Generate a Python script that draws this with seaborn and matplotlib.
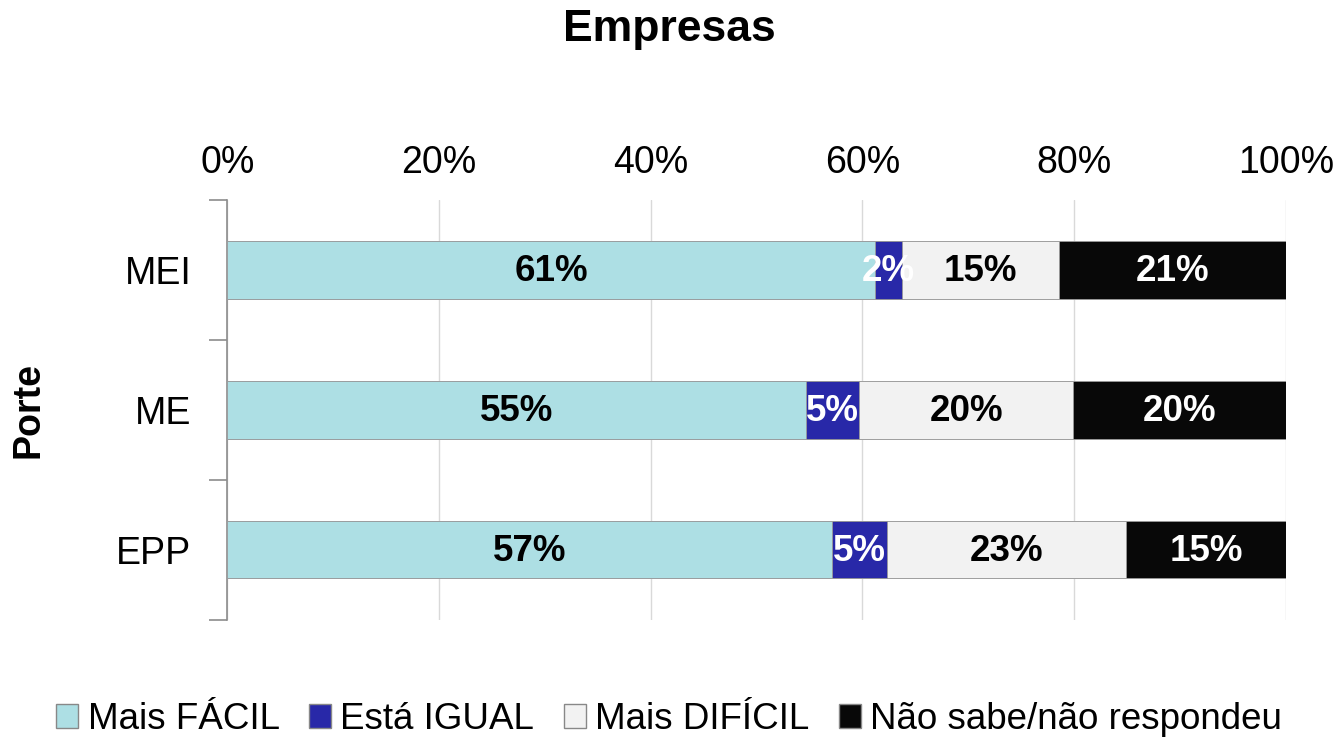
import numpy as np
import pandas as pd
import matplotlib
matplotlib.use("Agg")
import matplotlib.pyplot as plt
import seaborn as sns
from matplotlib.patches import Patch

sns.set_theme(style="white")
plt.rcParams['font.family'] = ['Liberation Sans', 'DejaVu Sans']
plt.rcParams['text.color'] = 'black'
plt.rcParams['xtick.color'] = 'black'
plt.rcParams['ytick.color'] = 'black'
plt.rcParams['axes.labelcolor'] = 'black'

# Data (percentages)
portes = ["MEI", "ME", "EPP"]
categorias = ["Mais FÁCIL", "Está IGUAL", "Mais DIFÍCIL", "Não sabe/não respondeu"]
mais_facil = [61.2, 54.7, 57.1]
esta_igual = [2.5, 5.0, 5.2]
mais_dificil = [14.9, 20.2, 22.6]
nao_sabe = [21.4, 20.1, 15.1]

cores = ["#ADDFE4", "#2828A8", "#F2F2F2", "#080808"]
cores_texto = ["black", "white", "black", "white"]

series = [mais_facil, esta_igual, mais_dificil, nao_sabe]
df = pd.DataFrame({cat: vals for cat, vals in zip(categorias, series)}, index=portes)
cum = df.cumsum(axis=1)

fig = plt.figure(figsize=(13.38, 7.44), dpi=100)
ax = fig.add_axes([0.170, 0.167, 0.791, 0.564])

# draw cumulative bars from the last segment back to the first
for cat, cor in reversed(list(zip(categorias, cores))):
    plot_df = pd.DataFrame({"Porte": portes, "valor": cum[cat].values})
    sns.barplot(data=plot_df, x="valor", y="Porte", orient="h", color=cor,
                saturation=1, width=0.41, edgecolor="#9a9a9a", linewidth=0.6,
                ax=ax, zorder=3)

# value labels
for j, (cat, ct) in enumerate(zip(categorias, cores_texto)):
    for i, p in enumerate(portes):
        v = df.loc[p, cat]
        centro = cum.loc[p, cat] - v / 2
        ax.text(centro, i + 0.01, f"{v:.0f}%", ha="center", va="center",
                fontsize=26.5, fontweight="bold", color=ct, zorder=5)

ax.set_xlim(0, 100)
ax.set_ylim(2.5, -0.5)
ax.xaxis.tick_top()
ax.set_xticks(np.arange(0, 101, 20))
ax.set_xticklabels([f"{t}%" for t in range(0, 101, 20)], fontsize=27)
ax.tick_params(axis="x", length=0, pad=14)
ax.set_xlabel("")
ax.grid(axis="x", color="#D9D9D9", linewidth=1, zorder=0)
ax.set_axisbelow(True)

ax.set_yticks(range(len(portes)))
ax.set_yticklabels(portes, fontsize=27)
ax.set_yticks([-0.5, 0.5, 1.5, 2.5], minor=True)
ax.tick_params(axis="y", which="major", length=0, pad=26)
ax.tick_params(axis="y", which="minor", length=13, color="#8c8c8c", width=1.2, left=True)
ax.set_ylabel("Porte", fontsize=27, fontweight="bold", labelpad=50)

for s in ["top", "right", "bottom"]:
    ax.spines[s].set_visible(False)
ax.spines["left"].set_color("#8c8c8c")
ax.spines["left"].set_linewidth(1.2)

fig.suptitle("Empresas", fontsize=32, fontweight="bold", y=0.988)

handles = [Patch(facecolor=c, edgecolor="#888888", label=l) for c, l in zip(cores, categorias)]
fig.legend(handles=handles, loc="lower center", ncol=4, frameon=False,
           fontsize=26.5, bbox_to_anchor=(0.5, -0.035), handlelength=0.6,
           handleheight=0.6, handletextpad=0.25, columnspacing=0.8)

fig.savefig("out.png", dpi=100)
